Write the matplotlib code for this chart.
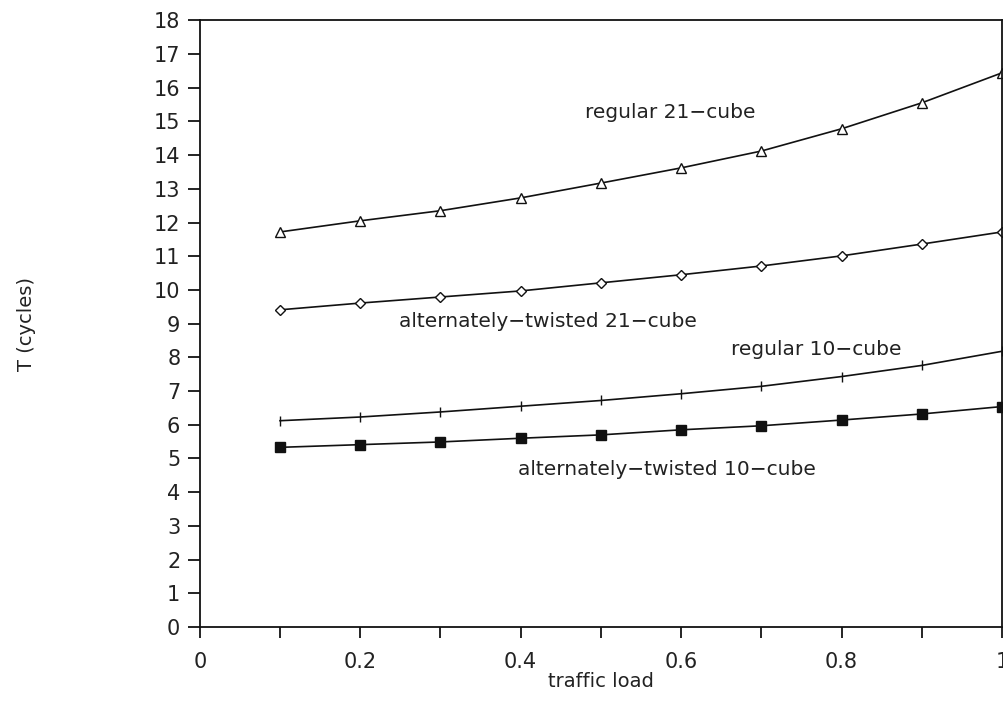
import matplotlib
matplotlib.use("Agg")
import matplotlib.pyplot as plt
import matplotlib.ticker as ticker

# traffic load values
load = [0.1, 0.2, 0.3, 0.4, 0.5, 0.6, 0.7, 0.8, 0.9, 1.0]

# T (cycles)
reg21 = [11.72, 12.05, 12.35, 12.73, 13.17, 13.62, 14.12, 14.78, 15.55, 16.44]
alt21 = [9.41, 9.61, 9.79, 9.97, 10.21, 10.45, 10.71, 11.01, 11.36, 11.72]
reg10 = [6.12, 6.23, 6.38, 6.55, 6.72, 6.92, 7.14, 7.43, 7.76, 8.18]
alt10 = [5.33, 5.41, 5.49, 5.60, 5.70, 5.85, 5.97, 6.14, 6.32, 6.54]

labels = ['regular 21\u2212cube', 'alternately\u2212twisted 21\u2212cube',
          'regular 10\u2212cube', 'alternately\u2212twisted 10\u2212cube']
label_xy = [(0.586, 15.25), (0.434, 9.05), (0.769, 8.22), (0.582, 4.66)]

ink = '#111111'
txt = '#222222'

fig = plt.figure(figsize=(10.04, 7.13), dpi=100)
ax = fig.add_axes([0.199, 0.1206, 0.799, 0.851])

ax.plot(load, reg21, color=ink, lw=1.2, marker='^', ms=7, mfc='white', mec=ink, mew=1.0)
ax.plot(load, alt21, color=ink, lw=1.2, marker='D', ms=5, mfc='white', mec=ink, mew=1.0)
ax.plot(load, reg10, color=ink, lw=1.2, marker='|', ms=7, mec=ink, mew=1.0)
ax.plot(load, alt10, color=ink, lw=1.2, marker='s', ms=7.5, mfc=ink, mec=ink)

for s, (x, y) in zip(labels, label_xy):
	ax.text(x, y, s, ha='center', va='center', fontsize=14.5, color=txt)

ax.set_xlim(0, 1)
ax.set_ylim(0, 18)
ax.xaxis.set_major_locator(ticker.MultipleLocator(0.2))
ax.xaxis.set_minor_locator(ticker.MultipleLocator(0.1))
ax.xaxis.set_major_formatter(ticker.FuncFormatter(lambda x, pos: '{0:g}'.format(round(x, 2))))
ax.yaxis.set_major_locator(ticker.MultipleLocator(1))

ax.tick_params(axis='y', direction='out', length=9, width=1.2, pad=5, labelsize=15, labelcolor=txt)
ax.tick_params(axis='x', which='major', direction='out', length=8, width=1.2, pad=10, labelsize=15, labelcolor=txt)
ax.tick_params(axis='x', which='minor', direction='out', length=8, width=1.2)
for sp in ax.spines.values():
	sp.set_linewidth(1.3)
	sp.set_color(ink)

ax.set_xlabel('traffic load', fontsize=14, color=txt, labelpad=0)
ax.set_ylabel('T (cycles)', fontsize=14, color=txt, labelpad=85)

plt.savefig('out.png', dpi=100)
